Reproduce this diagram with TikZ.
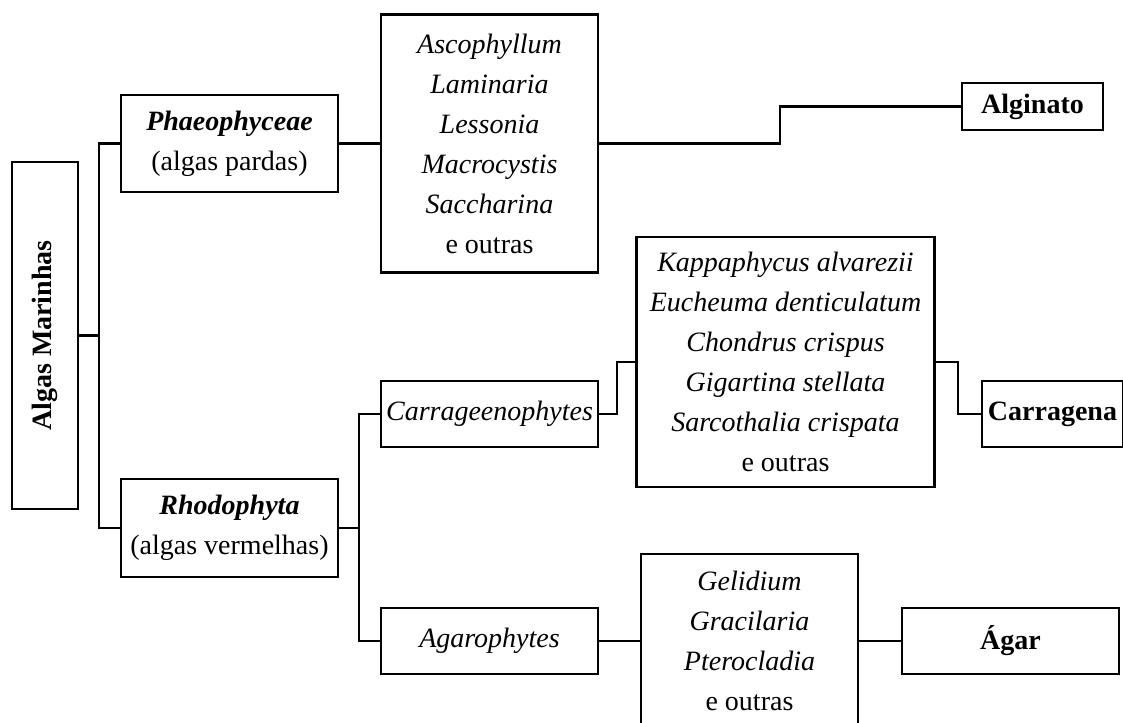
\documentclass[tikz,border=0pt]{standalone}
\usepackage{fontspec}
\setmainfont{Liberation Serif}
\usetikzlibrary{positioning}

\begin{document}
\begin{tikzpicture}[x=1pt, y=-1pt, line width=2.8pt,
    font=\fontsize{28}{40}\selectfont,
    box/.style={draw, align=center, inner sep=0pt},
    link/.style={line width=2.8pt}]
  \useasboundingbox (0,0) rectangle (1123,722);
  % classes
  \node[box, rotate=90, minimum width=347, minimum height=66] (marinhas) at (45,335.5) {\textbf{Algas Marinhas}};
  \node[box, minimum width=217, minimum height=97] (phaeo) at (229.5,143.5) {\textbf{\textit{Phaeophyceae}}\\(algas pardas)};
  \node[box, minimum width=217, minimum height=98] (rhodo) at (229.5,528) {\textbf{\textit{Rhodophyta}}\\(algas vermelhas)};
  % groups and species
  \node[box, minimum width=217, minimum height=258] (pardas) at (489.5,143.5) {\textit{Ascophyllum}\\\textit{Laminaria}\\\textit{Lessonia}\\\textit{Macrocystis}\\\textit{Saccharina}\\e outras};
  \node[box, minimum width=217, minimum height=66] (carrag) at (489.5,414) {\textit{Carrageenophytes}};
  \node[box, minimum width=217, minimum height=66] (agaro) at (489.5,641) {\textit{Agarophytes}};
  \node[box, minimum width=298, minimum height=250] (carragsp) at (785.5,362) {\textit{Kappaphycus alvarezii}\\\textit{Eucheuma denticulatum}\\\textit{Chondrus crispus}\\\textit{Gigartina stellata}\\\textit{Sarcothalia crispata}\\e outras};
  \node[box, minimum width=217, minimum height=174] (agarsp) at (749.5,641) {\textit{Gelidium}\\\textit{Gracilaria}\\\textit{Pterocladia}\\e outras};
  % products
  \node[box, minimum width=141, minimum height=47] (alginato) at (1032.5,106.5) {\textbf{Alginato}};
  \node[box, minimum width=141, minimum height=66] (carragena) at (1052.5,414) {\textbf{Carragena}};
  \node[box, minimum width=217, minimum height=66] (agar) at (1010.5,641) {\textbf{Ágar}};

  \coordinate (j1) at (99,335.5);
  \coordinate (j2) at (359,528);
  \coordinate (k1) at (780,143.5);
  \coordinate (k2) at (617,414);
  \coordinate (k3) at (958,362);

  \draw[link] (marinhas.south) -- (j1);
  \draw[link] (phaeo.west) -| (j1) |- (rhodo.west);
  \draw[link] (phaeo.east) -- (pardas.west);
  \draw[link] (pardas.east) -- (k1) |- (alginato.west);
  \draw[link] (rhodo.east) -- (j2);
  \draw[link] (carrag.west) -| (j2) |- (agaro.west);
  \draw[link] (carrag.east) -- (k2) |- (carragsp.west);
  \draw[link] (carragsp.east) -- (k3) |- (carragena.west);
  \draw[link] (agaro.east) -- (agarsp.west);
  \draw[link] (agarsp.east) -- (agar.west);
\end{tikzpicture}
\end{document}
